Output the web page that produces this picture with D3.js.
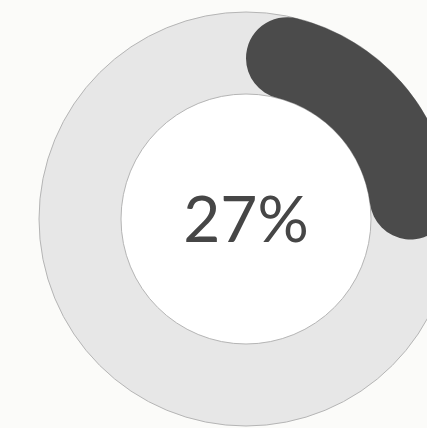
<!DOCTYPE html>
<html>
<head>
<meta charset="utf-8">
<script src="https://cdn.jsdelivr.net/npm/d3@7"></script>
<style>
  html, body { margin: 0; padding: 0; background: #fbfbf9; overflow: hidden; }
</style>
</head>
<body>
<div id="chart"></div>
<script>
// data
var labels = ['done', 'rest'];
var values = [27, 73];
var centerText = ['27%'];

var width = 427,
    height = 428,
    cx = 246,
    cy = 219,
    outerR = 207,
    innerR = 125;

var svg = d3.select('#chart')
  .append('svg')
  .attr('width', width)
  .attr('height', height)
  .append('g')
  .attr('transform', `translate(${cx},${cy})`);

var total = d3.sum(values);
var angle = d3.scaleLinear().domain([0, total]).range([0, 2 * Math.PI]);

// white hole
svg.append('circle')
  .attr('r', innerR)
  .style('fill', '#ffffff');

// background track
var track = d3.arc().innerRadius(innerR).outerRadius(outerR).startAngle(0).endAngle(2 * Math.PI);
svg.append('path')
  .attr('d', track())
  .style('fill', '#e7e7e7')
  .style('stroke', '#b5b5b5')
  .style('stroke-width', 1);

// value arc with rounded ends
var arc = d3.arc()
  .innerRadius(innerR)
  .outerRadius(outerR)
  .cornerRadius((outerR - innerR) / 2);

svg.append('path')
  .attr('d', arc({ startAngle: angle(0), endAngle: angle(values[0]) }))
  .style('fill', '#4b4b4b');

svg.append('text')
  .attr('x', 0)
  .attr('y', 23)
  .attr('text-anchor', 'middle')
  .style('font-family', 'Lato, sans-serif')
  .style('font-size', '64px')
  .style('fill', '#464646')
  .text(centerText[0]);
</script>
</body>
</html>
